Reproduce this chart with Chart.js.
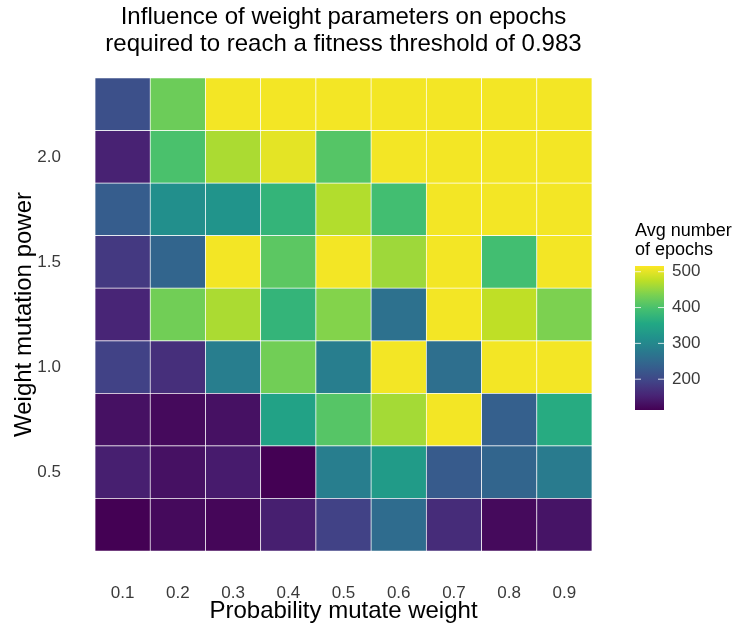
<!DOCTYPE html>
<html>
<head>
<meta charset="utf-8">
<script src="https://cdn.jsdelivr.net/npm/chart.js@4/dist/chart.umd.min.js"></script>
<style>
  html, body { margin: 0; padding: 0; background: #fff; }
  #wrap { width: 738px; height: 626px; }
</style>
</head>
<body>
<div id="wrap"><canvas id="heat" width="738" height="626"></canvas></div>
<script>
// x categories and y levels
var probLabels = ['0.1','0.2','0.3','0.4','0.5','0.6','0.7','0.8','0.9'];
var powerLevels = [0.25, 0.5, 0.75, 1.0, 1.25, 1.5, 1.75, 2.0, 2.25];
var powerTicks = [0.5, 1.0, 1.5, 2.0];

// avg number of epochs, one row per weight mutation power (bottom -> top)
var pow025 = [114, 124, 120, 148, 192, 256, 164, 124, 136];
var pow050 = [148, 132, 144, 112, 284, 333, 228, 244, 280];
var pow075 = [132, 124, 132, 345, 409, 461, 510, 236, 361];
var pow100 = [192, 168, 284, 429, 284, 510, 260, 510, 510];
var pow125 = [156, 429, 465, 377, 441, 264, 510, 477, 437];
var pow150 = [180, 244, 510, 413, 510, 457, 510, 393, 510];
var pow175 = [232, 312, 320, 377, 469, 393, 510, 510, 510];
var pow200 = [152, 400, 465, 500, 408, 510, 510, 510, 510];
var pow225 = [212, 425, 510, 510, 510, 510, 510, 510, 510];
var epochRows = [pow025, pow050, pow075, pow100, pow125, pow150, pow175, pow200, pow225];

// colour bar
var colorMin = 114;
var colorMax = 516;
var colorTicks = [200, 300, 400, 500];

var FONT = '"Liberation Sans", Arial, sans-serif';

var viridisStops = [
  [68,1,84],[72,36,117],[65,68,135],[53,95,141],[42,120,142],
  [33,145,140],[34,168,132],[68,191,112],[122,209,81],[189,223,38],[253,231,37]
];
function viridis(t) {
  t = Math.max(0, Math.min(1, t));
  var p = t * 10, i = Math.min(9, Math.floor(p)), f = p - i;
  var a = viridisStops[i], b = viridisStops[i+1];
  return 'rgb(' + [0,1,2].map(function(k){ return Math.round(a[k] + (b[k]-a[k])*f); }).join(',') + ')';
}
function epochColor(v) { return viridis((v - colorMin) / (colorMax - colorMin)); }

var half = 0.125;
var datasets = epochRows.map(function(row, i) {
  var p = powerLevels[i];
  return {
    label: 'power ' + p,
    data: row.map(function(){ return [p - half, p + half]; }),
    backgroundColor: row.map(epochColor),
    borderColor: 'rgba(255,255,255,0.85)',
    borderWidth: 0.7,
    borderSkipped: false,
    grouped: false,
    barPercentage: 1,
    categoryPercentage: 1
  };
});

var colorBar = {
  id: 'colorBar',
  afterDraw: function(chart) {
    var ctx = chart.ctx, area = chart.chartArea;
    var x = area.right + 43, w = 29;
    var top = area.top + 188, h = 144;
    ctx.save();
    ctx.fillStyle = '#000';
    ctx.font = '18px ' + FONT;
    ctx.textAlign = 'left';
    ctx.textBaseline = 'middle';
    ctx.fillText('Avg number', x, top - 35);
    ctx.fillText('of epochs', x, top - 16);
    var g = ctx.createLinearGradient(0, top + h, 0, top);
    for (var s = 0; s <= 20; s++) g.addColorStop(s / 20, viridis(s / 20));
    ctx.fillStyle = g;
    ctx.fillRect(x, top, w, h);
    ctx.font = '17px ' + FONT;
    ctx.strokeStyle = 'rgba(255,255,255,0.8)';
    ctx.lineWidth = 1;
    colorTicks.forEach(function(v) {
      var y = top + h - (v - colorMin) / (colorMax - colorMin) * h;
      ctx.beginPath();
      ctx.moveTo(x, y); ctx.lineTo(x + 6, y);
      ctx.moveTo(x + w - 6, y); ctx.lineTo(x + w, y);
      ctx.stroke();
      ctx.fillStyle = '#3a3a3a';
      ctx.fillText(String(v), x + w + 8, y);
    });
    ctx.restore();
  }
};

var chart = new Chart(document.getElementById('heat'), {
  type: 'bar',
  data: { labels: probLabels, datasets: datasets },
  plugins: [colorBar],
  options: {
    responsive: false,
    animation: false,
    layout: { padding: { left: 0, right: 146, top: 0, bottom: 0 } },
    plugins: {
      legend: { display: false },
      tooltip: { enabled: false },
      title: {
        display: true,
        fullSize: false,
        text: ['Influence of weight parameters on epochs', 'required to reach a fitness threshold of 0.983'],
        color: '#000',
        font: { family: FONT, size: 24, weight: 'normal', lineHeight: 1.125 },
        padding: { top: 3.5, bottom: 20.5 }
      }
    },
    scales: {
      x: {
        grid: { display: false, drawTicks: false },
        border: { display: false },
        afterFit: function(axis) { axis.height = 75; },
        ticks: { color: '#3a3a3a', padding: 32, font: { family: FONT, size: 17 } },
        title: {
          display: true, text: 'Probability mutate weight', color: '#000',
          font: { family: FONT, size: 24 },
          padding: { top: 0, bottom: 0 }
        }
      },
      y: {
        min: powerLevels[0] - half,
        max: powerLevels[powerLevels.length - 1] + half,
        grid: { display: false, drawTicks: false },
        border: { display: false },
        afterFit: function(axis) { axis.width = 95; },
        afterBuildTicks: function(axis) {
          axis.ticks = powerTicks.map(function(v){ return { value: v }; });
        },
        ticks: {
          color: '#3a3a3a', padding: 34,
          font: { family: FONT, size: 17 },
          callback: function(v) { return Number(v).toFixed(1); }
        },
        title: {
          display: true, text: 'Weight mutation power', color: '#000',
          font: { family: FONT, size: 24 },
          padding: { top: 9.6, bottom: 0 }
        }
      }
    }
  }
});
</script>
</body>
</html>
